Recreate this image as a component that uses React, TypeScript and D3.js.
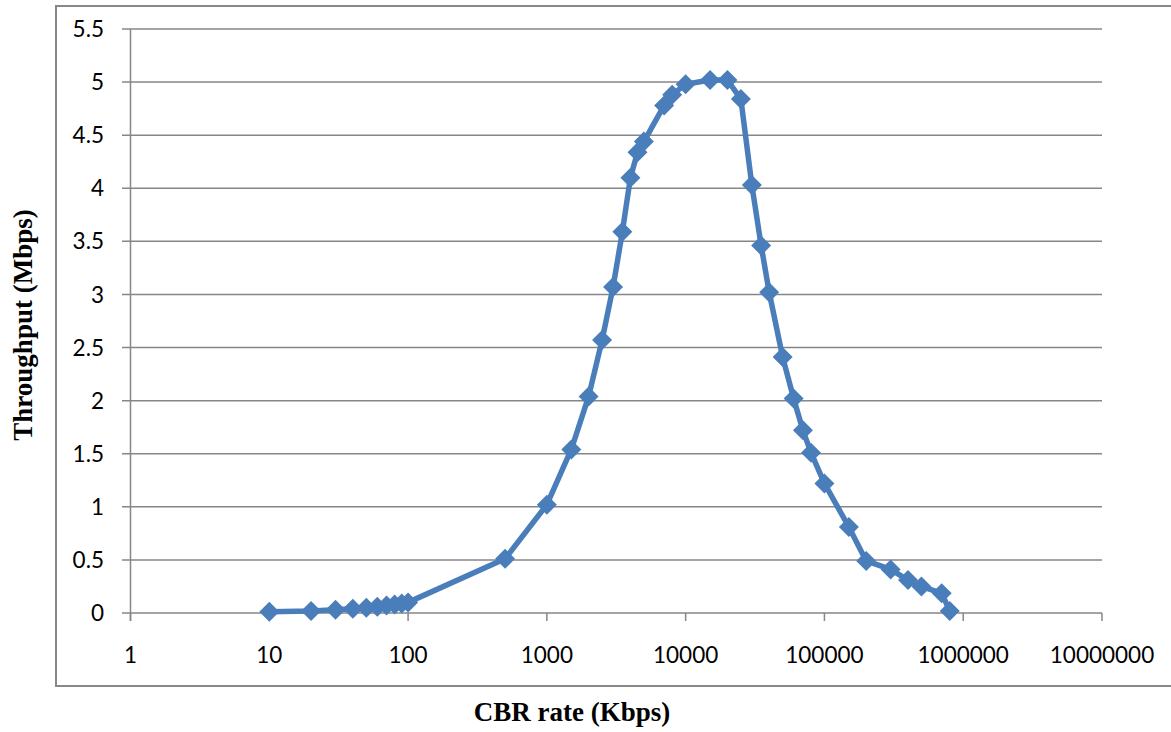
import { useEffect, useRef } from 'react';
import * as d3 from 'd3';

// CBR rate (Kbps) vs throughput (Mbps)
const rates = [
  10, 20, 30, 40, 50, 60, 70, 80, 90, 100,
  500, 1000, 1500, 2000, 2500, 3000, 3500, 4000, 4500, 5000, 7000, 8000,
  10000, 15000, 20000, 25000, 30000, 35000, 40000, 50000, 60000, 70000, 80000,
  100000, 150000, 200000, 300000, 400000, 500000, 700000, 800000,
];
const throughput = [
  0.012, 0.02, 0.03, 0.04, 0.05, 0.06, 0.07, 0.08, 0.09, 0.1,
  0.51, 1.02, 1.54, 2.04, 2.57, 3.07, 3.59, 4.1, 4.34, 4.44, 4.78, 4.88,
  4.98, 5.02, 5.02, 4.84, 4.03, 3.46, 3.02, 2.41, 2.02, 1.72, 1.51,
  1.22, 0.81, 0.49, 0.41, 0.31, 0.25, 0.185, 0.02,
];
const yTicks = [0, 0.5, 1, 1.5, 2, 2.5, 3, 3.5, 4, 4.5, 5, 5.5];
const xTicks = [1, 10, 100, 1000, 10000, 100000, 1000000, 10000000];

const W = 1171;
const H = 732;
const blue = '#4a7ebb';
const grid = '#868686';

export default function App() {
  const ref = useRef<SVGSVGElement>(null);

  useEffect(() => {
    const svg = d3.select(ref.current);
    svg.selectAll('*').remove();

    const x = d3.scaleLog().domain([1, 1e7]).range([130.5, 1102]);
    const y = d3.scaleLinear().domain([0, 5.5]).range([613, 29]);

    // outer chart border
    svg.append('rect')
      .attr('x', 56).attr('y', 6).attr('width', W).attr('height', 680)
      .attr('fill', 'none').attr('stroke', '#888').attr('stroke-width', 2);

    // horizontal gridlines + left ticks
    svg.append('g').selectAll('line').data(yTicks).enter().append('line')
      .attr('x1', 122).attr('x2', 1102)
      .attr('y1', d => y(d)).attr('y2', d => y(d))
      .attr('stroke', grid).attr('stroke-width', 1.5);

    svg.append('g').selectAll('text').data(yTicks).enter().append('text')
      .attr('x', 104).attr('y', d => y(d))
      .attr('dy', '0.36em').attr('text-anchor', 'end')
      .style('font-family', 'Lato, sans-serif').style('font-size', '22.5px').style('fill', '#000')
      .text(d => String(d));

    // y axis line
    svg.append('line')
      .attr('x1', x(1)).attr('x2', x(1)).attr('y1', y(5.5)).attr('y2', y(0) + 8)
      .attr('stroke', grid).attr('stroke-width', 1.5);

    // x ticks (downward)
    svg.append('g').selectAll('line').data(xTicks).enter().append('line')
      .attr('x1', d => x(d)).attr('x2', d => x(d))
      .attr('y1', y(0)).attr('y2', y(0) + 8)
      .attr('stroke', grid).attr('stroke-width', 1.5);

    svg.append('g').selectAll('text').data(xTicks).enter().append('text')
      .attr('x', d => x(d)).attr('y', 663)
      .attr('text-anchor', 'middle')
      .style('font-family', 'Lato, sans-serif').style('font-size', '22.5px').style('fill', '#000')
      .text(d => String(d));

    const pts = rates.map((r, i) => [r, throughput[i]] as [number, number]);

    svg.append('path')
      .datum(pts)
      .attr('fill', 'none').attr('stroke', blue).attr('stroke-width', 5.5)
      .attr('stroke-linejoin', 'round')
      .attr('d', d3.line<[number, number]>().x(d => x(d[0])).y(d => y(d[1])));

    const s = 10;
    svg.append('g').selectAll('path').data(pts).enter().append('path')
      .attr('transform', d => `translate(${x(d[0])},${y(d[1])})`)
      .attr('d', `M0,${-s}L${s},0L0,${s}L${-s},0Z`)
      .attr('fill', blue);

    // axis titles
    svg.append('text')
      .attr('x', 572).attr('y', 721).attr('text-anchor', 'middle')
      .style('font-family', '"Liberation Serif", "Times New Roman", serif')
      .style('font-weight', 'bold').style('font-size', '27px')
      .text('CBR rate (Kbps)');

    svg.append('text')
      .attr('transform', 'translate(32,325) rotate(-90)')
      .attr('text-anchor', 'middle')
      .style('font-family', '"Liberation Serif", "Times New Roman", serif')
      .style('font-weight', 'bold').style('font-size', '27px')
      .text('Throughput (Mbps)');
  }, []);

  return (
    <svg
      ref={ref}
      width={W}
      height={H}
      style={{ position: 'absolute', left: 0, top: 0, background: '#fff' }}
    />
  );
}
